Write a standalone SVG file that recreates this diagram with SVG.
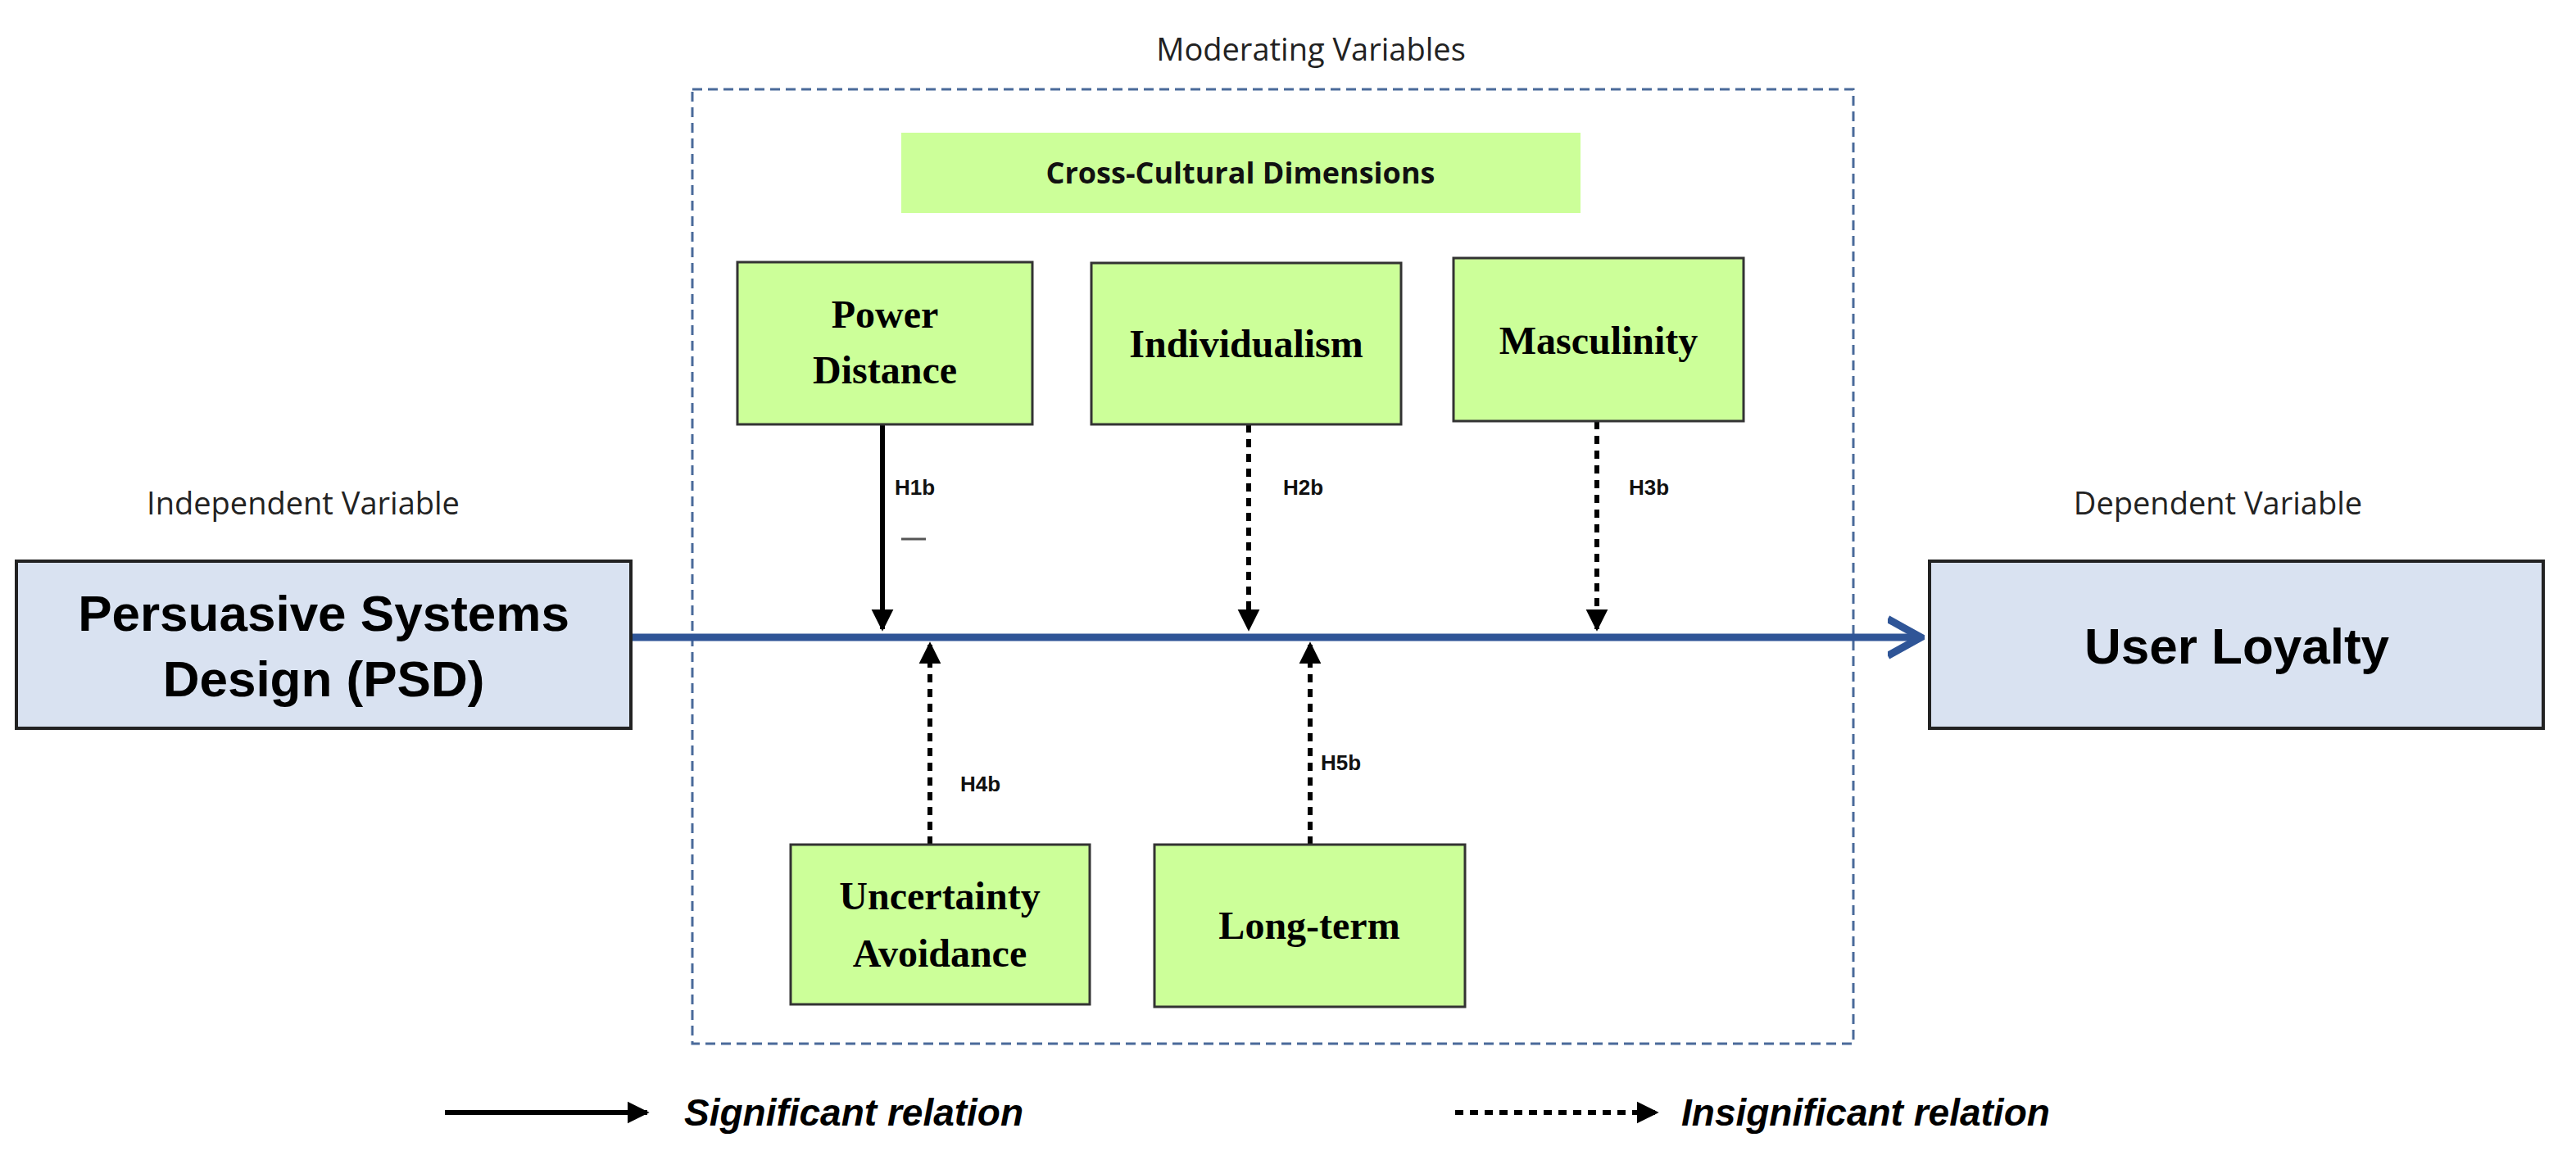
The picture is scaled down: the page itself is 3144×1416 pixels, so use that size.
<svg xmlns="http://www.w3.org/2000/svg" width="3144" height="1416" viewBox="0 0 3144 1416">
<style>
.cap{font-family:"Open Sans","Liberation Sans",sans-serif;font-size:38px;fill:#222;text-anchor:middle}
.big{font-family:"Liberation Sans",Arial,sans-serif;font-weight:bold;font-size:62px;fill:#000;text-anchor:middle}
.dim{font-family:"Liberation Serif","Times New Roman",serif;font-weight:bold;font-size:48px;fill:#000;text-anchor:middle}
.h{font-family:"Liberation Sans",Arial,sans-serif;font-weight:bold;font-size:26px;fill:#111}
.leg{font-family:"Liberation Sans",Arial,sans-serif;font-weight:bold;font-style:italic;font-size:46px;fill:#000}
.gbox{fill:#ccff99;stroke:#333;stroke-width:3}
.bbox{fill:#d9e2f1;stroke:#222;stroke-width:4}
.sig{stroke:#000;stroke-width:6;fill:none}
.ins{stroke:#000;stroke-width:6;stroke-dasharray:10 8;fill:none}
</style>
<defs>
<marker id="ah" viewBox="0 0 10 10" refX="9" refY="5" markerWidth="4.5" markerHeight="6" orient="auto" markerUnits="strokeWidth"><path d="M0,0 L10,5 L0,10 Z" fill="#000"/></marker>
<marker id="bh" viewBox="0 0 10 10" refX="8" refY="5" markerWidth="5" markerHeight="7" orient="auto" markerUnits="strokeWidth"><path d="M0,0 L9,5 L0,10" fill="none" stroke="#2f5597" stroke-width="2"/></marker>
</defs>
<text class="cap" x="1600" y="74">Moderating Variables</text>
<text class="cap" x="370" y="628">Independent Variable</text>
<text class="cap" x="2707" y="628">Dependent Variable</text>
<rect x="845" y="109" width="1417" height="1165" fill="none" stroke="#4a6a9a" stroke-width="3" stroke-dasharray="12 7"/>
<g id="connectors">
<line x1="772" y1="778" x2="2340" y2="778" stroke="#2f5597" stroke-width="9" marker-end="url(#bh)"/>
<line class="sig" x1="1077" y1="518" x2="1077" y2="768" marker-end="url(#ah)"/>
<line class="ins" x1="1524" y1="518" x2="1524" y2="768" marker-end="url(#ah)"/>
<line class="ins" x1="1949" y1="514" x2="1949" y2="768" marker-end="url(#ah)"/>
<line class="ins" x1="1135" y1="1031" x2="1135" y2="786" marker-end="url(#ah)"/>
<line class="ins" x1="1599" y1="1031" x2="1599" y2="786" marker-end="url(#ah)"/>
<text class="h" x="1092" y="604">H1b</text>
<line x1="1100" y1="658" x2="1130" y2="658" stroke="#555" stroke-width="3"/>
<text class="h" x="1566" y="604">H2b</text>
<text class="h" x="1988" y="604">H3b</text>
<text class="h" x="1172" y="966">H4b</text>
<text class="h" x="1612" y="940">H5b</text>
</g>
<g id="psd"><rect class="bbox" x="20" y="685" width="750" height="204"/>
<text class="big" x="395" y="770">Persuasive Systems</text><text class="big" x="395" y="850">Design (PSD)</text></g>
<g id="loyalty"><rect class="bbox" x="2355" y="685" width="749" height="204"/>
<text class="big" x="2730" y="810">User Loyalty</text></g>
<g id="ccd"><rect x="1100" y="162" width="829" height="98" fill="#ccff99"/>
<text x="1514" y="224" font-family="Open Sans,Liberation Sans,sans-serif" font-weight="bold" font-size="36" text-anchor="middle" fill="#111">Cross-Cultural Dimensions</text></g>
<g id="pd"><rect class="gbox" x="900" y="320" width="360" height="198"/>
<text class="dim" x="1080" y="400">Power</text><text class="dim" x="1080" y="468">Distance</text></g>
<g id="ind"><rect class="gbox" x="1332" y="321" width="378" height="197"/>
<text class="dim" x="1521" y="436">Individualism</text></g>
<g id="mas"><rect class="gbox" x="1774" y="315" width="354" height="199" stroke-width="5"/>
<text class="dim" x="1951" y="432">Masculinity</text></g>
<g id="ua"><rect class="gbox" x="965" y="1031" width="365" height="195"/>
<text class="dim" x="1147" y="1110">Uncertainty</text><text class="dim" x="1147" y="1180">Avoidance</text></g>
<g id="lt"><rect class="gbox" x="1409" y="1031" width="379" height="198"/>
<text class="dim" x="1598" y="1146">Long-term</text></g>
<g id="legend">
<line class="sig" x1="543" y1="1358" x2="790" y2="1358" marker-end="url(#ah)"/>
<text class="leg" x="835" y="1374">Significant relation</text>
<line class="ins" x1="1776" y1="1358" x2="2022" y2="1358" stroke-dasharray="6 5" marker-end="url(#ah)"/>
<text class="leg" x="2052" y="1374">Insignificant relation</text>
</g>
</svg>
